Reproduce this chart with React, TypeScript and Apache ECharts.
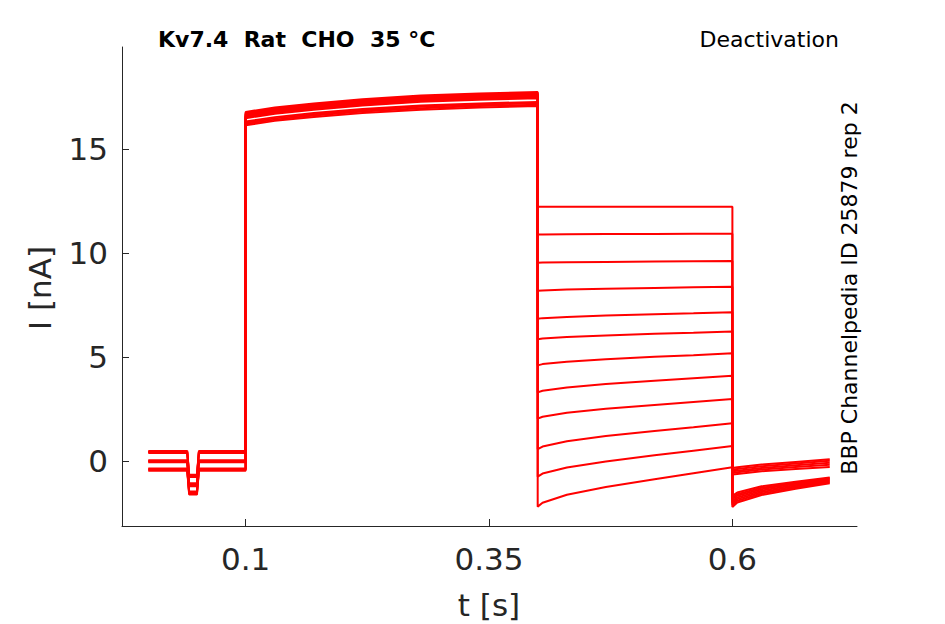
import React, { useEffect, useRef } from "react";
import * as echarts from "echarts";

// time samples (s) for each protocol segment
const tBase = [0, 0.04, 0.042, 0.05, 0.052, 0.1];
const tAct = [0.1, 0.13, 0.17, 0.22, 0.28, 0.34, 0.4];
const tTail = [0.4, 0.405, 0.43, 0.47, 0.52, 0.56, 0.6];
const tPost = [0.6, 0.605, 0.63, 0.665, 0.7];

// holding current and brief test-pulse current per sweep (nA)
const baseline = [0.5, 0.45, 0.45, 0.4, 0.05, 0, 0, -0.05, -0.35, -0.4, -0.4, -0.45];
const notch = [-0.65, -0.7, -0.72, -0.75, -1.05, -1.1, -1.15, -1.2, -1.45, -1.5, -1.55, -1.6];

// activation step current per sweep (nA)
const activation = [
  [16.79, 17.0, 17.2, 17.4, 17.58, 17.68, 17.75],
  [16.74, 16.95, 17.15, 17.35, 17.53, 17.63, 17.7],
  [16.69, 16.9, 17.1, 17.3, 17.48, 17.58, 17.65],
  [16.65, 16.86, 17.06, 17.26, 17.44, 17.54, 17.61],
  [16.61, 16.82, 17.02, 17.22, 17.4, 17.5, 17.57],
  [16.57, 16.78, 16.98, 17.18, 17.36, 17.46, 17.53],
  [16.53, 16.74, 16.94, 17.14, 17.32, 17.42, 17.49],
  [16.49, 16.7, 16.9, 17.1, 17.28, 17.38, 17.45],
  [16.33, 16.54, 16.74, 16.93, 17.1, 17.2, 17.27],
  [16.27, 16.48, 16.68, 16.87, 17.04, 17.14, 17.21],
  [16.21, 16.42, 16.62, 16.81, 16.97, 17.07, 17.14],
  [16.15, 16.36, 16.55, 16.74, 16.9, 17.0, 17.07],
];

// deactivation tail current per sweep (nA)
const tail = [
  [12.23, 12.23, 12.23, 12.23, 12.23, 12.23, 12.23],
  [10.9, 10.9, 10.91, 10.92, 10.92, 10.93, 10.93],
  [9.54, 9.55, 9.56, 9.58, 9.6, 9.61, 9.62],
  [8.19, 8.21, 8.25, 8.29, 8.33, 8.36, 8.39],
  [6.85, 6.88, 6.94, 7.01, 7.07, 7.11, 7.16],
  [5.86, 5.9, 5.97, 6.05, 6.13, 6.18, 6.24],
  [4.61, 4.67, 4.78, 4.9, 5.02, 5.1, 5.19],
  [3.31, 3.39, 3.55, 3.71, 3.87, 3.99, 4.11],
  [2.05, 2.14, 2.33, 2.52, 2.71, 2.85, 2.99],
  [0.58, 0.71, 0.96, 1.21, 1.46, 1.64, 1.83],
  [-0.74, -0.59, -0.3, -0.01, 0.29, 0.51, 0.73],
  [-2.18, -1.99, -1.61, -1.24, -0.86, -0.57, -0.29],
];

// post-tail current per sweep (nA)
const post = [
  [-0.32, -0.29, -0.16, -0.03, 0.1],
  [-0.4, -0.37, -0.24, -0.11, 0.02],
  [-0.48, -0.45, -0.32, -0.19, -0.07],
  [-0.56, -0.53, -0.4, -0.28, -0.17],
  [-0.64, -0.61, -0.48, -0.37, -0.27],
  [-1.66, -1.5, -1.2, -0.98, -0.78],
  [-1.75, -1.58, -1.27, -1.03, -0.82],
  [-1.84, -1.66, -1.34, -1.08, -0.86],
  [-1.93, -1.74, -1.41, -1.14, -0.91],
  [-2.02, -1.82, -1.48, -1.2, -0.96],
  [-2.11, -1.9, -1.55, -1.26, -1.01],
  [-2.2, -1.98, -1.62, -1.32, -1.06],
];

const xTicks = [0.1, 0.35, 0.6];
const yTicks = [0, 5, 10, 15];

const FONT = "DejaVu Sans";
const AX = "#262626";

function buildTrace(i: number): number[][] {
  const b = baseline[i];
  const n = notch[i];
  const baseVals = [b, b, n, n, b, b];
  const pts: number[][] = [];
  tBase.forEach((t, j) => pts.push([t, baseVals[j]]));
  tAct.forEach((t, j) => pts.push([t, activation[i][j]]));
  tTail.forEach((t, j) => pts.push([t, tail[i][j]]));
  tPost.forEach((t, j) => pts.push([t, post[i][j]]));
  return pts;
}

export default function App() {
  const ref = useRef<HTMLDivElement>(null);
  useEffect(() => {
    if (!ref.current) return;
    const chart = echarts.init(ref.current, undefined, { renderer: "svg" });
    const series = baseline.map((_, i) => ({
      type: "line",
      data: buildTrace(i),
      showSymbol: false,
      symbol: "none",
      silent: true,
      lineStyle: { color: "#ff0000", width: 2 },
      clip: true,
    }));
    chart.setOption({
      animation: false,
      backgroundColor: "#ffffff",
      grid: { left: 122, right: 88, top: 47, bottom: 98 },
      xAxis: {
        type: "value",
        min: -0.027,
        max: 0.728,
        axisLine: { show: true, onZero: false, lineStyle: { color: AX, width: 1 } },
        axisTick: { show: true, inside: true, length: 7, lineStyle: { color: AX }, customValues: xTicks },
        axisLabel: {
          customValues: xTicks,
          color: AX,
          fontFamily: FONT,
          fontSize: 31,
          margin: 17,
          formatter: (v: number) => String(v),
        },
        splitLine: { show: false },
      },
      yAxis: {
        type: "value",
        min: -3.11,
        max: 19.91,
        axisLine: { show: true, onZero: false, lineStyle: { color: AX, width: 1 } },
        axisTick: { show: true, inside: true, length: 7, lineStyle: { color: AX }, customValues: yTicks },
        axisLabel: {
          customValues: yTicks,
          color: AX,
          fontFamily: FONT,
          fontSize: 31,
          margin: 14,
          formatter: (v: number) => String(v),
        },
        splitLine: { show: false },
      },
      graphic: [
        {
          type: "text",
          x: 158,
          y: 39,
          style: {
            text: "Kv7.4  Rat  CHO  35 °C",
            font: `bold 22px "${FONT}"`,
            fill: "#000000",
            align: "left",
            verticalAlign: "middle",
          },
        },
        {
          type: "text",
          x: 839,
          y: 39,
          style: {
            text: "Deactivation",
            font: `22px "${FONT}"`,
            fill: "#000000",
            align: "right",
            verticalAlign: "middle",
          },
        },
        {
          type: "text",
          x: 849,
          y: 288,
          rotation: Math.PI / 2,
          style: {
            text: "BBP Channelpedia ID 25879 rep 2",
            font: `22px "${FONT}"`,
            fill: "#000000",
            align: "center",
            verticalAlign: "middle",
          },
        },
        {
          type: "text",
          x: 489,
          y: 605,
          style: {
            text: "t [s]",
            font: `31px "${FONT}"`,
            fill: AX,
            align: "center",
            verticalAlign: "middle",
          },
        },
        {
          type: "text",
          x: 40,
          y: 288,
          rotation: Math.PI / 2,
          style: {
            text: "I [nA]",
            font: `31px "${FONT}"`,
            fill: AX,
            align: "center",
            verticalAlign: "middle",
          },
        },
      ],
      series,
    });
    return () => chart.dispose();
  }, []);
  return (
    <div
      ref={ref}
      style={{ position: "absolute", left: 0, top: 0, width: 945, height: 624 }}
    />
  );
}
